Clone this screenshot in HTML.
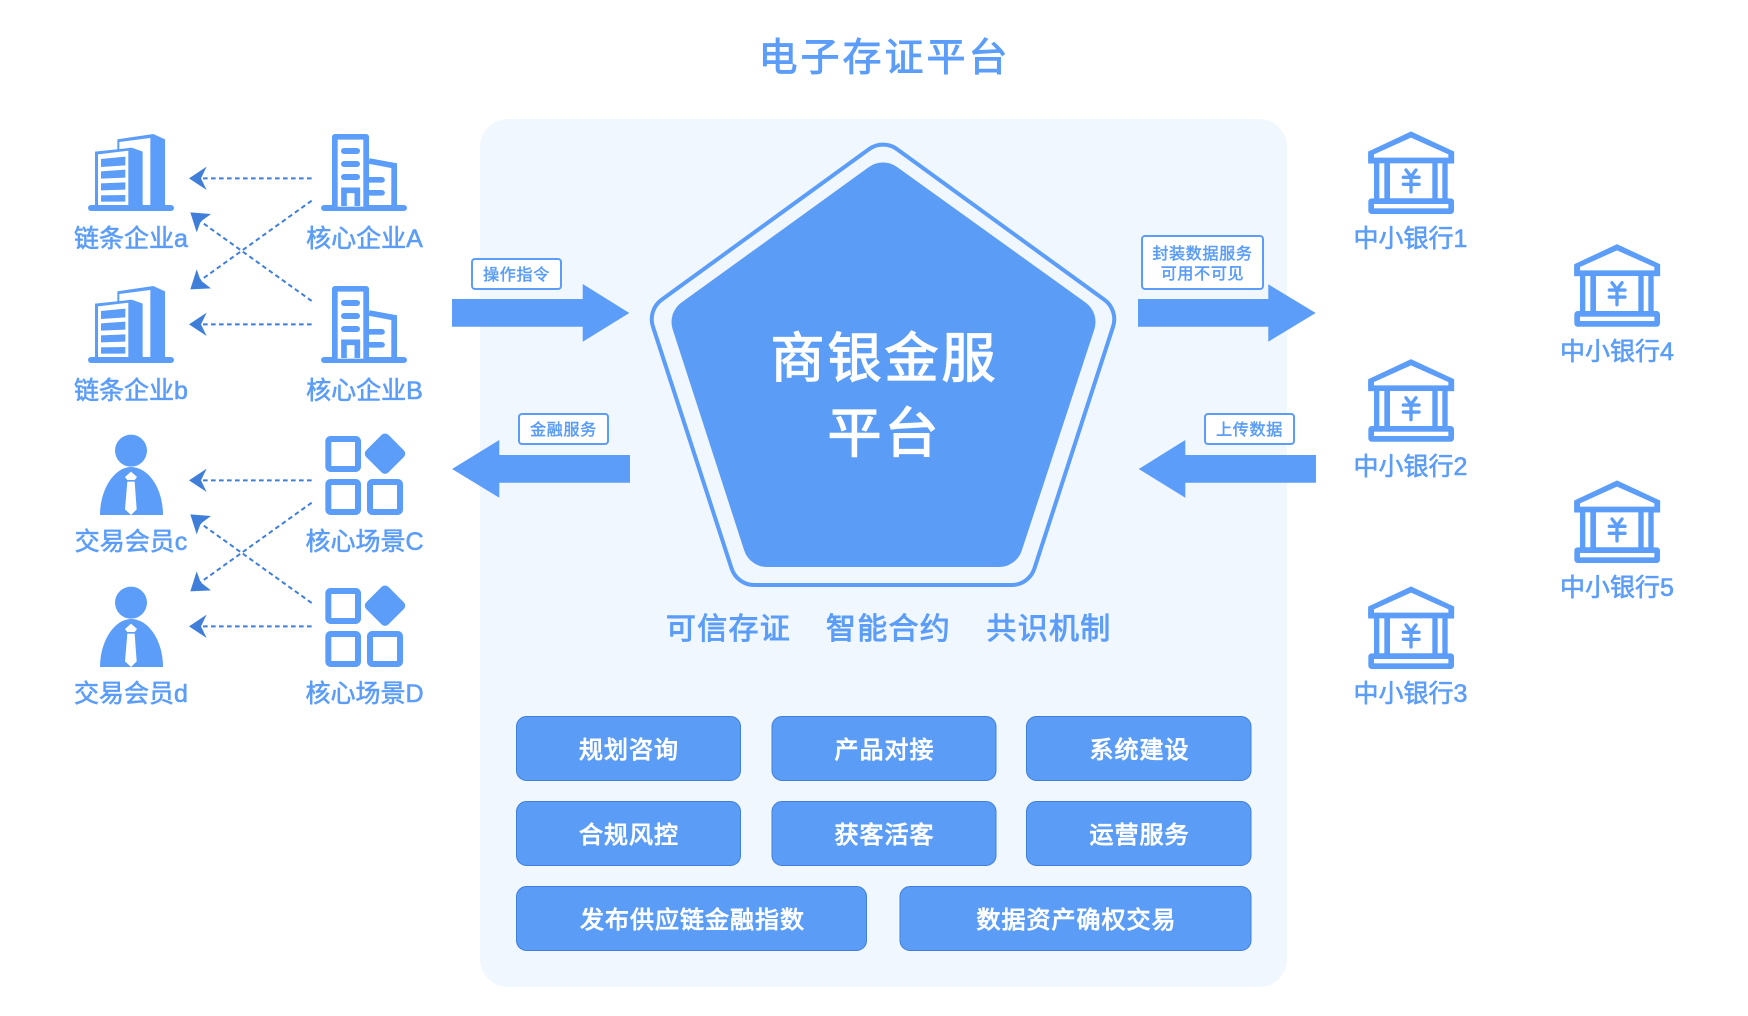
<!DOCTYPE html>
<html lang="zh"><head><meta charset="utf-8"><title>电子存证平台</title>
<style>
html,body{margin:0;padding:0;background:#fff}
svg{display:block}
text{font-family:"Liberation Sans","Noto Sans CJK SC",sans-serif;text-anchor:middle}
.l{font-size:25px;fill:#5b9df8;stroke:#5b9df8;stroke-width:.6px}
.s{font-size:16px;fill:#5b9df8;stroke:#5b9df8;stroke-width:.5px;letter-spacing:.7px}
.b{font-size:24px;fill:#fff;stroke:#fff;stroke-width:.9px;letter-spacing:1px}
.m{font-size:30px;fill:#5b9df8;stroke:#5b9df8;stroke-width:.9px;letter-spacing:1.3px}
.c{font-size:54px;fill:#fff;stroke:#fff;stroke-width:1.3px;letter-spacing:3px}
.t{font-size:39px;fill:#5b9df8;stroke:#5b9df8;stroke-width:.9px;letter-spacing:3px}
.btn{fill:#5b9cf6;stroke:#3f7fd9;stroke-width:1}
.tag{fill:#fff;stroke:#5b9df8;stroke-width:2}
</style></head><body>
<svg xmlns="http://www.w3.org/2000/svg" width="1748" height="1016" viewBox="0 0 1748 1016">
<defs>
<g id="tower">
<rect x="144" y="285" width="258" height="18" rx="9" fill="#5b9df8"/>
<polygon points="232,88 340,72 375,88 375,288 232,288" fill="#5b9df8"/>
<polygon points="238,96 331,84 331,285 238,285" fill="#fff"/>
<polygon points="165,125 275,113 308,125 308,288 165,288" fill="#5b9df8"/>
<polygon points="174,133 265,122 265,285 174,285" fill="#fff"/>
<polygon points="183,147 256,140 256,166 183,171" fill="#5b9df8"/>
<polygon points="183,184 256,179 256,203 183,206" fill="#5b9df8"/>
<polygon points="183,220 256,217 256,239 183,241" fill="#5b9df8"/>
<polygon points="183,256 256,255 256,275 183,275" fill="#5b9df8"/>
</g>
<g id="office">
<rect x="843" y="285" width="258" height="18" rx="9" fill="#5b9df8"/>
<path d="M884.500 290V80.500H978.500V290" fill="#fff" stroke="#5b9df8" stroke-width="17" stroke-linejoin="round"/>
<path d="M987 153L1062.500 167V290" fill="none" stroke="#5b9df8" stroke-width="17"/>
<rect x="903" y="114" width="57" height="18" rx="9" fill="#5b9df8"/>
<rect x="903" y="153" width="57" height="18" rx="9" fill="#5b9df8"/>
<rect x="903" y="192" width="57" height="18" rx="9" fill="#5b9df8"/>
<path d="M912 288V241H952V288" fill="none" stroke="#5b9df8" stroke-width="17"/>
<path d="M987 201H1026a8.500 8.500 0 0 1 0 17H987Z" fill="#5b9df8"/>
<path d="M987 240H1026a8.500 8.500 0 0 1 0 17H987Z" fill="#5b9df8"/>
</g>
<g id="person">
<circle cx="273" cy="92" r="48" fill="#5b9df8"/>
<path d="M180 285C180 205 225 141 273 141C325 141 369 205 369 285Z" fill="#5b9df8"/>
<path d="M273 155L291 171L284 180H262L255 171Z" fill="#fff"/>
<path d="M262 185H284L290 268L273 285L255 268Z" fill="#fff"/>
</g>
<g id="grid" fill="#fff" stroke="#5b9df8" stroke-width="18">
<rect x="865" y="57" width="89" height="90" rx="7"/>
<rect x="865" y="186" width="89" height="90" rx="7"/>
<rect x="990" y="186" width="90" height="90" rx="7"/>
<rect x="988" y="54" width="94" height="94" rx="14" fill="#5b9df8" stroke="none" transform="rotate(45 1035 101)"/>
</g>
<g id="links">
<g fill="none" stroke="#3f7fd9" stroke-width="6" stroke-dasharray="14 10">
<path d="M815 205H485"/>
<path d="M815 643H485"/>
<path d="M815 272L480 512"/>
<path d="M815 573L480 333"/>
</g>
<g fill="#3f7fd9">
<polygon points="447,205 500,170 483,205 500,240"/>
<polygon points="447,643 500,608 483,643 500,678"/>
<polygon points="451,538 470,478 482,511 513,535"/>
<polygon points="451,307 513,312 482,335 470,367"/>
</g>
</g>
<g id="bank">
<path d="M213 35L342 95V130H85V95Z" fill="#5b9df8" stroke="#5b9df8" stroke-width="1" stroke-linejoin="round"/>
<path d="M213 35L333 91a10 10 0 0 1 9 10V122a8 8 0 0 1-8 8H93a8 8 0 0 1-8-8V101a10 10 0 0 1 9-10Z" fill="#5b9df8"/>
<polygon points="213,53 325,103 325,113 102,113 102,103" fill="#fff"/>
<rect x="102" y="125" width="221" height="115" fill="#5b9df8"/>
<rect x="118" y="130" width="15" height="105" fill="#fff"/>
<rect x="150" y="130" width="127" height="105" fill="#fff"/>
<rect x="293" y="130" width="14" height="105" fill="#fff"/>
<rect x="85" y="235" width="257" height="47" rx="10" fill="#5b9df8"/>
<rect x="102" y="252" width="223" height="13" fill="#fff"/>
<path d="M198 150L213 170L228 150M190 172H237M190 193H237M213 170V216" fill="none" stroke="#5b9df8" stroke-width="10" stroke-linecap="round" stroke-linejoin="round"/>
</g>
</defs>

<text class="t" x="884.500" y="71">电子存证平台</text>

<rect x="480" y="119" width="807" height="868" rx="28" fill="#f0f7ff"/>

<path d="M868.900 149.200A24 24 0 0 1 897.100 149.200L1104.400 299.800A24 24 0 0 1 1113.100 326.500L1034.400 568.500A24 24 0 0 1 1011.600 585H754.400A24 24 0 0 1 731.600 568.500L652.900 326.500A24 24 0 0 1 661.600 299.800Z" fill="none" stroke="#5b9df8" stroke-width="4"/>
<polygon points="883,186.500 1071.500,322 999,543 767,543 695.500,322" fill="#5b9cf6" stroke="#5b9cf6" stroke-width="48" stroke-linejoin="round"/>
<text class="c" x="884.500" y="377">商银金服</text>
<text class="c" x="884.500" y="452">平台</text>

<polygon points="452,299 582.700,299 582.700,284 629.300,313 582.700,341.700 582.700,326.700 452,326.700" fill="#5b9df8"/>
<polygon points="452,469 499.300,440 499.300,455 630,455 630,482.700 499.300,482.700 499.300,497.700" fill="#5b9df8"/>
<polygon points="1138,299 1268.300,299 1268.300,284.300 1315.700,313 1268.300,341.700 1268.300,326.700 1138,326.700" fill="#5b9df8"/>
<polygon points="1138.700,469 1185.300,440 1185.300,455 1316,455 1316,482.700 1185.300,482.700 1185.300,497.700" fill="#5b9df8"/>

<rect class="tag" x="472" y="259" width="89" height="30" rx="3"/>
<text class="s" x="516.500" y="280">操作指令</text>
<rect class="tag" x="519" y="414" width="89" height="30" rx="3"/>
<text class="s" x="563.500" y="435">金融服务</text>
<rect class="tag" x="1142" y="236" width="121" height="53" rx="3"/>
<text class="s" x="1202.500" y="259">封装数据服务</text>
<text class="s" x="1202.500" y="279">可用不可见</text>
<rect class="tag" x="1205" y="414" width="89" height="30" rx="3"/>
<text class="s" x="1249.500" y="435">上传数据</text>

<text class="m" x="728.500" y="639">可信存证</text>
<text class="m" x="888.500" y="639">智能合约</text>
<text class="m" x="1049" y="639">共识机制</text>

<rect class="btn" x="516.500" y="716.500" width="224" height="64" rx="10"/>
<rect class="btn" x="772" y="716.500" width="224" height="64" rx="10"/>
<rect class="btn" x="1026.500" y="716.500" width="224.500" height="64" rx="10"/>
<rect class="btn" x="516.500" y="801.500" width="224" height="64" rx="10"/>
<rect class="btn" x="772" y="801.500" width="224" height="64" rx="10"/>
<rect class="btn" x="1026.500" y="801.500" width="224.500" height="64" rx="10"/>
<rect class="btn" x="516.500" y="886.500" width="350" height="64" rx="10"/>
<rect class="btn" x="900" y="886.500" width="351" height="64" rx="10"/>
<text class="b" x="629" y="758">规划咨询</text>
<text class="b" x="884.500" y="758">产品对接</text>
<text class="b" x="1139.500" y="758">系统建设</text>
<text class="b" x="629" y="843">合规风控</text>
<text class="b" x="884.500" y="843">获客活客</text>
<text class="b" x="1139.500" y="843">运营服务</text>
<text class="b" x="692.500" y="928">发布供应链金融指数</text>
<text class="b" x="1076.500" y="928">数据资产确权交易</text>

<g transform="translate(40,110) scale(.33333)"><use href="#tower"/><use href="#office"/><use href="#links"/></g>
<g transform="translate(40,262) scale(.33333)"><use href="#tower"/><use href="#office"/></g>
<g transform="translate(40,420) scale(.33333)"><use href="#person"/><use href="#grid"/></g>
<g transform="translate(40,572) scale(.33333)"><use href="#person"/><use href="#grid"/></g>
<g transform="translate(40,412) scale(.33333)"><use href="#links"/></g>

<text class="l" x="131" y="247">链条企业a</text>
<text class="l" x="364.500" y="247">核心企业A</text>
<text class="l" x="131" y="399">链条企业b</text>
<text class="l" x="364.500" y="399">核心企业B</text>
<text class="l" x="131" y="550">交易会员c</text>
<text class="l" x="364.500" y="550">核心场景C</text>
<text class="l" x="131" y="702">交易会员d</text>
<text class="l" x="364.500" y="702">核心场景D</text>

<g transform="translate(1340,120) scale(.33333)"><use href="#bank"/></g>
<g transform="translate(1340,347.700) scale(.33333)"><use href="#bank"/></g>
<g transform="translate(1340,575) scale(.33333)"><use href="#bank"/></g>
<g transform="translate(1546,232.700) scale(.33333)"><use href="#bank"/></g>
<g transform="translate(1546,469) scale(.33333)"><use href="#bank"/></g>
<text class="l" x="1410.500" y="247">中小银行1</text>
<text class="l" x="1410.500" y="475">中小银行2</text>
<text class="l" x="1410.500" y="702">中小银行3</text>
<text class="l" x="1617" y="360">中小银行4</text>
<text class="l" x="1617" y="596">中小银行5</text>
</svg>
</body></html>
